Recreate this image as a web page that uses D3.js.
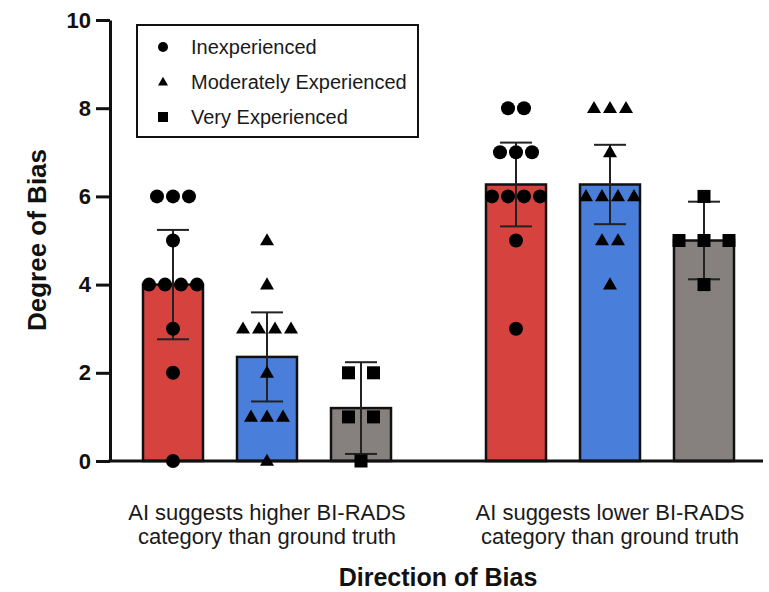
<!DOCTYPE html>
<html>
<head>
<meta charset="utf-8">
<script src="https://cdn.jsdelivr.net/npm/d3@7"></script>
<style>
    body { margin: 0; background: #fff; }
    text { font-family: "Liberation Sans", Arial, Helvetica, sans-serif; }
</style>
</head>
<body>
<script>
// groups along the x axis, split in two lines like the original
const groups = ['higher', 'lower'];
const groupLabels = [
    ['AI suggests higher BI-RADS', 'category than ground truth'],
    ['AI suggests lower BI-RADS', 'category than ground truth']
];
const series = ['Inexperienced', 'Moderately Experienced', 'Very Experienced'];
const colors = ['#d6433f', '#4a7edb', '#86817f'];
const shapes = ['circle', 'triangle', 'square'];

// bar heights (means) and error bar half-widths (95% CI)
const meansHigher = [4.0, 2.36, 1.2];
const meansLower = [6.27, 6.27, 5.0];
const errHigher = [1.24, 1.01, 1.04];
const errLower = [0.95, 0.9, 0.88];

// individual ratings
const pointsHigher = [
    [6, 6, 6, 5, 4, 4, 4, 4, 3, 2, 0],
    [5, 4, 3, 3, 3, 3, 2, 1, 1, 1, 0],
    [2, 2, 1, 1, 0]
];
const pointsLower = [
    [8, 8, 7, 7, 7, 6, 6, 6, 6, 5, 3],
    [8, 8, 8, 7, 6, 6, 6, 6, 5, 5, 4],
    [6, 5, 5, 5, 4]
];
const yTicks = [0, 2, 4, 6, 8, 10];

const means = [meansHigher, meansLower];
const errs = [errHigher, errLower];
const points = [pointsHigher, pointsLower];

const svg = d3.select('body')
    .append('svg')
    .attr('width', 769)
    .attr('height', 592);

const y = d3.scaleLinear()
    .domain([0, 10])
    .range([461, 20]);

const xGroup = d3.scalePoint()
    .domain(groups)
    .range([267, 610]);

const xInner = d3.scalePoint()
    .domain(series)
    .range([-94, 94]);

const barW = 60;

// flat list of cells
let cells = [];
groups.forEach((g, gi) => {
    series.forEach((s, si) => {
        cells.push({
            g: g, s: s, si: si,
            cx: xGroup(g) + xInner(s),
            mean: means[gi][si],
            err: errs[gi][si],
            pts: points[gi][si]
        });
    });
});

// bars
svg.selectAll('rect.bar')
    .data(cells)
    .enter()
    .append('rect')
    .attr('class', 'bar')
    .attr('x', d => d.cx - barW / 2)
    .attr('y', d => y(d.mean))
    .attr('width', barW)
    .attr('height', d => y(0) - y(d.mean))
    .attr('fill', d => colors[d.si])
    .attr('stroke', '#111')
    .attr('stroke-width', 2.5);

// error bars
const eb = svg.selectAll('g.err')
    .data(cells)
    .enter()
    .append('g')
    .attr('class', 'err')
    .attr('stroke', '#222')
    .attr('stroke-width', 2);

eb.append('line')
    .attr('x1', d => d.cx).attr('x2', d => d.cx)
    .attr('y1', d => y(d.mean - d.err))
    .attr('y2', d => y(d.mean + d.err));
eb.append('line')
    .attr('x1', d => d.cx - 16).attr('x2', d => d.cx + 16)
    .attr('y1', d => y(d.mean + d.err))
    .attr('y2', d => y(d.mean + d.err));
eb.append('line')
    .attr('x1', d => d.cx - 16).attr('x2', d => d.cx + 16)
    .attr('y1', d => y(d.mean - d.err))
    .attr('y2', d => y(d.mean - d.err));

// axes
svg.append('g')
    .attr('transform', 'translate(110, 0)')
    .call(d3.axisLeft(y)
        .tickValues(yTicks)
        .tickSize(14)
        .tickPadding(5)
        .tickSizeOuter(0))
    .call(g => g.selectAll('line, path').attr('stroke', '#111').attr('stroke-width', 3))
    .call(g => g.selectAll('text')
        .attr('fill', '#111')
        .style('font-size', '22px')
        .style('font-weight', 'bold'));

svg.append('line')
    .attr('x1', 108.5)
    .attr('x2', 763)
    .attr('y1', y(0))
    .attr('y2', y(0))
    .attr('stroke', '#111')
    .attr('stroke-width', 3);

// symbol paths
function marker(shape, size) {
    if (shape == 'circle') {
        return d3.symbol(d3.symbolCircle, Math.PI * size * size / 4)();
    }
    if (shape == 'square') {
        let h = size / 2;
        return `M${-h},${-h}H${h}V${h}H${-h}Z`;
    }
    let h = size * 0.87;
    return `M0,${-h * 0.6}L${size / 2},${h * 0.4}L${-size / 2},${h * 0.4}Z`;
}

// scatter points, spread sideways when values repeat
const spacing = [16, 16, 25];
cells.forEach(c => {
    let counts = d3.rollup(c.pts, v => v.length, v => v);
    let seen = new Map();
    let pts = c.pts.map(v => {
        let k = seen.get(v) || 0;
        seen.set(v, k + 1);
        let n = counts.get(v);
        return { v: v, off: (k - (n - 1) / 2) * spacing[c.si] };
    });
    svg.append('g')
        .selectAll('path')
        .data(pts)
        .enter()
        .append('path')
        .attr('d', marker(shapes[c.si], c.si == 2 ? 13 : 14))
        .attr('transform', d => `translate(${c.cx + d.off}, ${y(d.v)})`)
        .attr('fill', '#000');
});

// category labels
groups.forEach((g, gi) => {
    svg.append('text')
        .attr('x', xGroup(g))
        .attr('y', 520)
        .attr('text-anchor', 'middle')
        .attr('fill', '#1a1a1a')
        .style('font-size', '22px')
        .selectAll('tspan')
        .data(groupLabels[gi])
        .enter()
        .append('tspan')
        .attr('x', xGroup(g))
        .attr('dy', (d, i) => i == 0 ? 0 : 24)
        .text(d => d);
});

// axis titles
svg.append('text')
    .attr('x', 438)
    .attr('y', 586)
    .attr('text-anchor', 'middle')
    .attr('fill', '#111')
    .style('font-size', '25px')
    .style('font-weight', 'bold')
    .text('Direction of Bias');

svg.append('text')
    .attr('transform', 'translate(46, 240) rotate(-90)')
    .attr('text-anchor', 'middle')
    .attr('fill', '#111')
    .style('font-size', '26px')
    .style('font-weight', 'bold')
    .text('Degree of Bias');

// legend
const legend = svg.append('g');
legend.append('rect')
    .attr('x', 137)
    .attr('y', 25)
    .attr('width', 281)
    .attr('height', 112)
    .attr('fill', '#fff')
    .attr('stroke', '#111')
    .attr('stroke-width', 2);

series.forEach((s, i) => {
    let ly = 47 + i * 35;
    legend.append('path')
        .attr('d', marker(shapes[i], 10))
        .attr('transform', `translate(163, ${ly})`)
        .attr('fill', '#000');
    legend.append('text')
        .attr('x', 191)
        .attr('y', ly + 7)
        .attr('fill', '#1a1a1a')
        .style('font-size', '20px')
        .text(s);
});
</script>
</body>
</html>
